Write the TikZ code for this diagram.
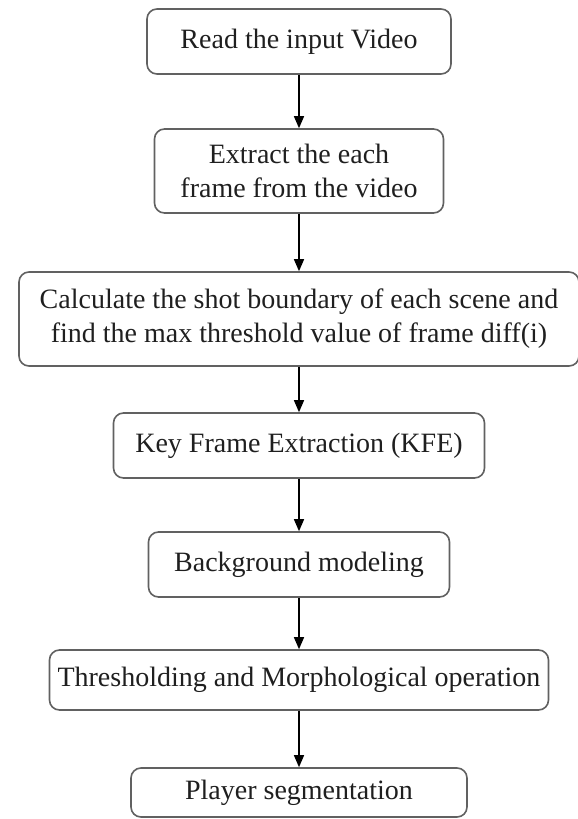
\documentclass[tikz,border=0pt]{standalone}
\usepackage{fontspec}
\setmainfont{Liberation Serif}
\usetikzlibrary{arrows.meta}
\usetikzlibrary{positioning}

\tikzset{
  stepbox/.style={draw=black!62, line width=1.6pt, rounded corners=10pt, align=center,
    inner sep=4pt, text=black!88, font=\fontsize{28}{34}\selectfont},
  >={Triangle[length=12pt,width=10pt]}
}

\begin{document}
\begin{tikzpicture}
    \useasboundingbox (0,0) rectangle (578pt,-819pt);

    \node (read) [stepbox, minimum width=304pt, minimum height=65pt] at (299pt,-41.5pt) {Read the input Video};

    \node (extract) [stepbox, below=53.4pt of read, minimum width=289pt, minimum height=84pt] {Extract the each\\frame from the video};
    \node (shot) [stepbox, below=57.4pt of extract, minimum width=560pt, minimum height=94pt] {Calculate the shot boundary of each scene and\\find the max threshold value of frame diff(i)};
    \node (kfe) [stepbox, below=45.4pt of shot, minimum width=371pt, minimum height=65pt] {Key Frame Extraction (KFE)};
    \node (bgmodel) [stepbox, below=52.4pt of kfe, minimum width=301pt, minimum height=65pt] {Background modeling};
    \node (thresh) [stepbox, below=51.4pt of bgmodel, minimum width=499pt, minimum height=60pt, inner xsep=2pt] {Thresholding and Morphological operation};
    \node (segment) [stepbox, below=56.4pt of thresh, minimum width=336pt, minimum height=49pt] {Player segmentation};

    \path [->] (read) edge[line width=1.4pt] (extract);
    \path [->] (extract) edge[line width=1.4pt] (shot);
    \path [->] (shot) edge[line width=1.4pt] (kfe);
    \path [->] (kfe) edge[line width=1.4pt] (bgmodel);
    \path [->] (bgmodel) edge[line width=1.4pt] (thresh);
    \path [->] (thresh) edge[line width=1.4pt] (segment);
\end{tikzpicture}
\end{document}
